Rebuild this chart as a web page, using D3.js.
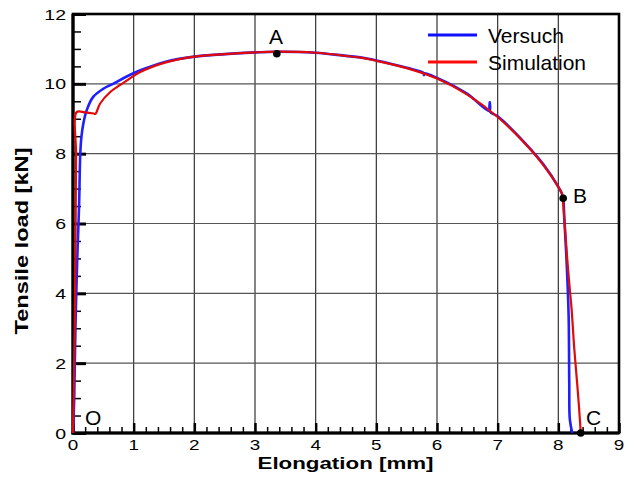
<!DOCTYPE html>
<html>
<head>
<meta charset="utf-8">
<script src="https://cdn.jsdelivr.net/npm/d3@7"></script>
<style>
  body { margin: 0; background: #fff; }
  text { font-family: Arial, "Liberation Sans", sans-serif; fill: #000; }
</style>
</head>
<body>
<div class="canvas"></div>
<script>
// Versuch (test) curve, elongation [mm] / load [kN]
const versuchX = [0, 0.02, 0.04, 0.07, 0.10, 0.12, 0.14, 0.17, 0.225, 0.33, 0.5, 0.66, 0.885, 1.1, 1.5, 2, 2.5, 3, 3.35, 4, 4.5, 4.73, 5, 5.5, 5.78, 5.785, 5.79, 6, 6.5, 6.865, 6.87, 6.875, 7, 7.5, 7.75, 8, 8.07, 8.1, 8.14, 8.17, 8.18, 8.19, 8.23]
const versuchY = [0, 1, 3, 5, 6.5, 8, 8.5, 8.86, 9.24, 9.62, 9.86, 10.0, 10.21, 10.38, 10.62, 10.78, 10.85, 10.9, 10.92, 10.89, 10.8, 10.76, 10.67, 10.46, 10.31, 10.25, 10.3, 10.17, 9.71, 9.22, 9.47, 9.2, 9.07, 8.21, 7.7, 7.05, 6.8, 6.1, 4.76, 3.33, 1.43, 0.38, 0]
// Simulation curve
const simX = [0, 0.02, 0.04, 0.05, 0.06, 0.2, 0.34, 0.37, 0.445, 0.61, 0.885, 1.1, 1.5, 2, 2.5, 3, 3.35, 4, 4.5, 4.73, 5, 5.5, 6, 6.5, 7, 7.5, 7.75, 8, 8.07, 8.08, 8.12, 8.14, 8.18, 8.22, 8.26, 8.31, 8.34, 8.37]
const simY = [0, 2, 5, 8, 9.19, 9.18, 9.15, 9.14, 9.43, 9.76, 10.09, 10.33, 10.6, 10.78, 10.85, 10.9, 10.92, 10.89, 10.8, 10.75, 10.66, 10.45, 10.15, 9.69, 9.05, 8.2, 7.68, 7.05, 6.8, 6.57, 5.62, 5.14, 4.29, 3.52, 2.48, 1.43, 0.76, 0]

const xTicks = [0, 1, 2, 3, 4, 5, 6, 7, 8, 9]
const yTicks = [0, 2, 4, 6, 8, 10, 12]
const seriesNames = ["Versuch", "Simulation"]
const seriesColors = ["#1f1fff", "#e00a0a"]
const points = [
  { name: "A", x: 3.36, y: 10.86 },
  { name: "B", x: 8.08, y: 6.72 },
  { name: "C", x: 8.37, y: 0 }
]

const W = 634, H = 477
const m = { left: 73, right: 15, top: 14, bottom: 44 }

const svg = d3.select(".canvas").append("svg")
  .attr("width", W).attr("height", H)
  .style("background", "#fff")

const x = d3.scaleLinear().domain([0, 9]).range([m.left, W - m.right])
const y = d3.scaleLinear().domain([0, 12]).range([H - m.bottom, m.top])

// stretched text helper (the original fonts are wider)
function stext(g, px, py, str, size, anchor, sx, weight) {
  return g.append("text")
    .attr("transform", `translate(${px},${py}) scale(${sx},1)`)
    .attr("text-anchor", anchor)
    .style("font-size", size + "px")
    .style("font-weight", weight || "normal")
    .text(str)
}

// grid
const grid = svg.append("g")
grid.selectAll(".vg").data(xTicks.slice(1, -1)).enter().append("line")
  .attr("x1", d => x(d)).attr("x2", d => x(d))
  .attr("y1", y(0)).attr("y2", y(12))
  .attr("stroke", "#333").attr("stroke-width", 1.2)
grid.selectAll(".hg").data(yTicks.slice(1, -1)).enter().append("line")
  .attr("x1", x(0)).attr("x2", x(9))
  .attr("y1", d => y(d)).attr("y2", d => y(d))
  .attr("stroke", "#555").attr("stroke-width", 1.2)

// ticks (inward)
const xMinor = d3.range(0, 9.001, 0.2).map(v => +v.toFixed(1)).filter(v => !Number.isInteger(v))
const yMinor = d3.range(0, 12.001, 0.5).filter(v => v % 2 !== 0)

function tickAxis(axis, tr, width) {
  const g = svg.append("g").attr("transform", tr).call(axis)
  g.select(".domain").remove()
  g.selectAll("line").attr("stroke", "#000").attr("stroke-width", width)
  return g
}
tickAxis(d3.axisBottom(x).tickValues(xMinor).tickSize(-6).tickFormat(""), `translate(0,${y(0)})`, 1.5)
tickAxis(d3.axisBottom(x).tickValues(xTicks).tickSize(-10).tickFormat(""), `translate(0,${y(0)})`, 2.5)
tickAxis(d3.axisLeft(y).tickValues(yMinor).tickSize(-8).tickFormat(""), `translate(${x(0)},0)`, 1.5)
tickAxis(d3.axisLeft(y).tickValues(yTicks).tickSize(-13).tickFormat(""), `translate(${x(0)},0)`, 3)

// frame
svg.append("rect")
  .attr("x", x(0)).attr("y", y(12))
  .attr("width", x(9) - x(0)).attr("height", y(0) - y(12))
  .attr("fill", "none").attr("stroke", "#000").attr("stroke-width", 2.6)
svg.append("line").attr("x1", x(0)).attr("x2", x(0)).attr("y1", y(12)).attr("y2", y(0) + 1.5)
  .attr("stroke", "#000").attr("stroke-width", 3.2)
svg.append("line").attr("x1", x(0) - 1.5).attr("x2", x(9)).attr("y1", y(0)).attr("y2", y(0))
  .attr("stroke", "#000").attr("stroke-width", 3.2)

// tick labels
const labels = svg.append("g")
xTicks.forEach(v => stext(labels, x(v), 450, String(v), 14.5, "middle", 1.3))
yTicks.forEach(v => stext(labels, 66, y(v) + 5.5, String(v), 15, "end", 1.3))

// axis titles
svg.append("text")
  .attr("x", (x(0) + x(9)) / 2 - 0.5).attr("y", 469)
  .attr("text-anchor", "middle")
  .attr("textLength", 176).attr("lengthAdjust", "spacingAndGlyphs")
  .style("font-size", "17px").style("font-weight", "bold")
  .text("Elongation [mm]")
svg.append("text")
  .attr("transform", "translate(28,241) rotate(-90)")
  .attr("text-anchor", "middle")
  .attr("textLength", 187).attr("lengthAdjust", "spacingAndGlyphs")
  .style("font-size", "18px").style("font-weight", "bold")
  .text("Tensile load [kN]")

// curves
const line = d3.line().x(d => x(d[0])).y(d => y(d[1])).curve(d3.curveCatmullRom.alpha(0.5))
const series = [d3.zip(versuchX, versuchY), d3.zip(simX, simY)]
svg.append("g").selectAll("path").data(series).enter().append("path")
  .attr("d", line)
  .attr("fill", "none")
  .attr("stroke", (d, i) => seriesColors[i])
  .attr("stroke-width", (d, i) => i === 0 ? 2.6 : 2.2)
  .attr("stroke-linejoin", "round")

// marked points
svg.append("g").selectAll("circle").data(points).enter().append("circle")
  .attr("cx", d => x(d.x)).attr("cy", d => y(d.y)).attr("r", 3.8)
  .attr("fill", "#000")
const ann = svg.append("g")
stext(ann, 276, 44, "A", 20, "middle", 1.05)
stext(ann, 573, 203, "B", 20, "start", 1.05)
stext(ann, 586, 425, "C", 20, "start", 1.05)
stext(ann, 85, 425, "O", 20, "start", 1.05)

// legend
const leg = svg.append("g")
seriesNames.forEach((name, i) => {
  const ly = 35 + i * 27
  leg.append("line").attr("x1", 428).attr("x2", 477).attr("y1", ly).attr("y2", ly)
    .attr("stroke", i === 0 ? "#1010ff" : "#ff0a0a").attr("stroke-width", 3)
  stext(leg, 488, ly + 8, name, 20, "start", 1.05)
})
</script>
</body>
</html>
